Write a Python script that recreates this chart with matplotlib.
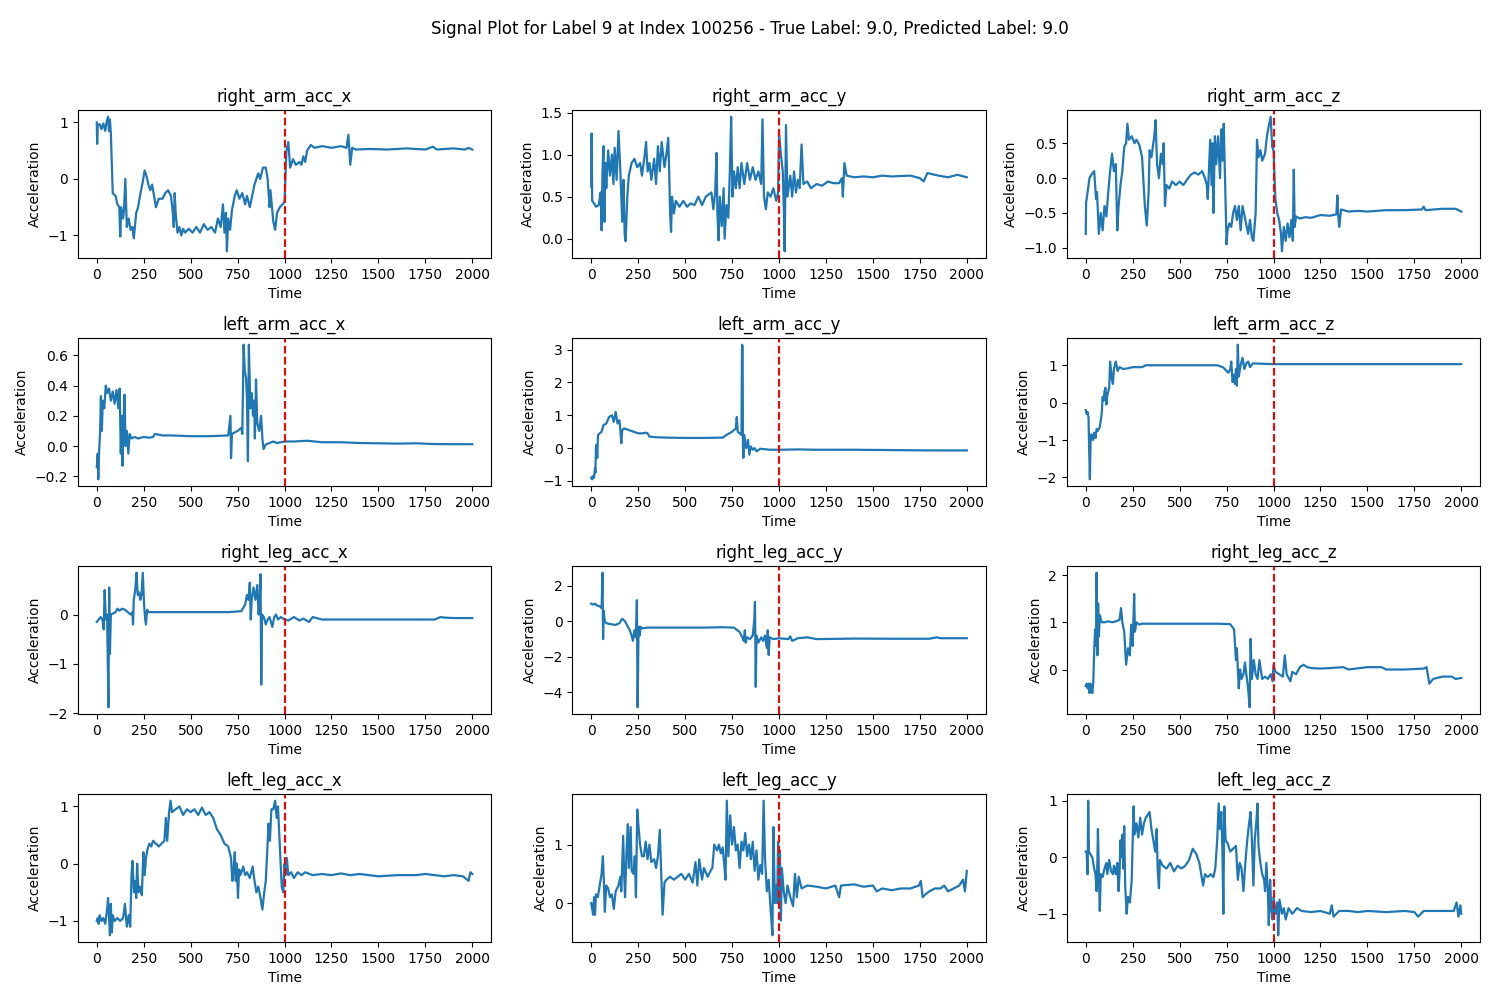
import numpy as np
import matplotlib
matplotlib.use("Agg")
import matplotlib.pyplot as plt

# Werte: (Zeit, Beschleunigung)
SIGNAL_NAMES = [
    "right_arm_acc_x", "right_arm_acc_y", "right_arm_acc_z",
    "left_arm_acc_x", "left_arm_acc_y", "left_arm_acc_z",
    "right_leg_acc_x", "right_leg_acc_y", "right_leg_acc_z",
    "left_leg_acc_x", "left_leg_acc_y", "left_leg_acc_z",
]
SPLIT_INDEX = 1000
XTICKS = [0, 250, 500, 750, 1000, 1250, 1500, 1750, 2000]

right_arm_acc_x = [
    (0, 1.0), (2, 0.62), (5, 0.95), (15, 0.97), (25, 0.88), (35, 0.98), (45, 0.85), (52, 1.0),
    (60, 1.1), (65, 0.85), (70, 1.05), (75, 0.8), (85, -0.25), (100, -0.3), (110, -0.45),
    (120, -0.5), (125, -1.02), (130, -0.5), (140, -0.7), (145, -0.55), (152, 0.0), (160, -0.85),
    (170, -0.7), (180, -0.9), (190, -0.85), (197, -1.05), (210, -0.6), (220, -0.5), (230, -0.3),
    (245, -0.05), (255, 0.15), (265, 0.05), (275, -0.1), (285, -0.2), (295, -0.1), (305, -0.3),
    (315, -0.5), (330, -0.35), (350, -0.35), (365, -0.25), (380, -0.2), (395, -0.3), (405, -0.6),
    (410, -0.85), (415, -0.25), (420, -0.6), (430, -0.95), (440, -0.85), (450, -1.0), (460, -0.88),
    (470, -0.95), (490, -0.88), (510, -0.95), (530, -0.85), (550, -0.95), (570, -0.8), (590, -0.9),
    (610, -0.85), (630, -0.95), (645, -0.7), (660, -0.85), (672, -0.45), (680, -0.95), (688, -0.6),
    (693, -1.28), (700, -0.7), (710, -0.9), (720, -0.55), (735, -0.3), (745, -0.2), (760, -0.35),
    (775, -0.25), (790, -0.45), (800, -0.3), (815, -0.5), (840, -0.1), (860, 0.1), (870, 0.0),
    (885, 0.2), (900, 0.2), (910, 0.0), (920, -0.5), (925, -0.2), (940, -0.75), (950, -0.9),
    (960, -0.6), (975, -0.5), (990, -0.45), (1000, -0.4), (1010, 0.5), (1020, 0.65), (1030, 0.2),
    (1045, 0.35), (1060, 0.25), (1080, 0.3), (1090, 0.25), (1100, 0.4), (1110, 0.3), (1120, 0.5),
    (1140, 0.6), (1160, 0.55), (1200, 0.58), (1250, 0.55), (1300, 0.58), (1330, 0.55), (1340, 0.78),
    (1350, 0.25), (1360, 0.55), (1380, 0.52), (1450, 0.53), (1550, 0.52), (1650, 0.54), (1750, 0.52),
    (1790, 0.57), (1810, 0.52), (1900, 0.54), (1960, 0.52), (1980, 0.55), (2000, 0.52),
]

right_arm_acc_y = [
    (0, 0.62), (2, 1.25), (5, 0.45), (15, 0.42), (25, 0.38), (40, 0.4), (50, 0.55), (55, 0.1),
    (60, 0.8), (65, 1.1), (70, 0.2), (75, 0.9), (80, 0.6), (90, 1.05), (100, 0.75), (110, 1.0),
    (118, 0.65), (125, 1.08), (135, 0.7), (145, 1.28), (155, 0.8), (165, 0.2), (172, 0.7),
    (178, 0.05), (183, -0.03), (192, 0.5), (200, 0.75), (215, 0.9), (230, 0.95), (245, 0.85),
    (260, 0.9), (270, 0.75), (285, 1.0), (292, 1.15), (300, 0.8), (310, 0.9), (320, 0.7),
    (335, 0.95), (345, 0.65), (355, 1.1), (365, 0.8), (375, 1.15), (390, 0.85), (400, 1.0),
    (410, 1.2), (415, 0.8), (420, 0.3), (425, 0.08), (430, 0.5), (440, 0.3), (450, 0.45),
    (470, 0.38), (490, 0.45), (510, 0.38), (530, 0.42), (550, 0.4), (570, 0.5), (590, 0.4),
    (610, 0.5), (640, 0.55), (650, 0.35), (660, 0.55), (667, 1.02), (672, 0.3), (678, -0.02),
    (685, 0.5), (695, 0.15), (705, 0.6), (710, 0.0), (720, 0.4), (730, 0.25), (738, 0.8),
    (745, 1.45), (752, 0.5), (760, 0.8), (770, 0.6), (780, 0.85), (790, 0.6), (800, 0.9),
    (815, 0.65), (830, 0.9), (845, 0.7), (860, 0.85), (875, 0.7), (890, 0.8), (905, 0.65),
    (912, 1.42), (920, 0.5), (930, 0.35), (940, 0.55), (955, 0.5), (970, 0.6), (985, 0.45),
    (995, 0.55), (1000, 1.25), (1010, 1.0), (1020, 0.8), (1025, 0.4), (1030, -0.15), (1037, 1.35),
    (1045, 0.5), (1060, 0.75), (1070, 0.5), (1080, 0.8), (1090, 0.55), (1100, 0.7), (1110, 0.6),
    (1120, 1.12), (1130, 0.65), (1150, 0.68), (1170, 0.6), (1200, 0.65), (1230, 0.63), (1260, 0.68),
    (1290, 0.66), (1320, 0.66), (1335, 0.72), (1340, 0.5), (1348, 0.9), (1360, 0.75), (1400, 0.73),
    (1450, 0.74), (1500, 0.73), (1550, 0.75), (1600, 0.74), (1700, 0.75), (1750, 0.72), (1770, 0.68),
    (1790, 0.78), (1850, 0.75), (1900, 0.73), (1950, 0.76), (2000, 0.73),
]

right_arm_acc_z = [
    (0, -0.8), (2, -0.35), (10, -0.2), (20, 0.0), (30, 0.05), (45, 0.1), (55, -0.3), (60, -0.2),
    (70, -0.8), (80, -0.5), (90, -0.75), (100, -0.4), (110, -0.55), (120, -0.2), (130, 0.1),
    (140, 0.35), (150, 0.1), (160, 0.2), (168, -0.75), (175, -0.4), (185, -0.1), (195, 0.1),
    (205, 0.45), (215, 0.5), (222, 0.78), (230, 0.55), (245, 0.6), (260, 0.5), (270, 0.55),
    (285, 0.48), (300, 0.3), (315, -0.4), (325, -0.68), (335, -0.2), (340, 0.4), (350, 0.3),
    (365, 0.6), (372, 0.83), (380, 0.2), (390, 0.0), (400, 0.35), (410, 0.2), (415, 0.5),
    (422, -0.4), (430, -0.1), (445, -0.15), (460, -0.05), (480, -0.1), (500, -0.05), (520, -0.1),
    (540, -0.02), (560, 0.05), (580, 0.08), (600, 0.05), (620, 0.1), (635, 0.0), (645, -0.1),
    (650, -0.3), (655, 0.05), (663, 0.55), (670, -0.1), (676, 0.5), (680, -0.5), (688, 0.6),
    (695, 0.2), (705, 0.6), (715, 0.0), (722, 0.7), (728, 0.25), (735, 0.78), (742, 0.0),
    (750, -0.95), (755, -0.75), (765, -0.65), (775, -0.7), (785, -0.5), (795, -0.4), (805, -0.6),
    (815, -0.4), (825, -0.75), (835, -0.4), (850, -0.6), (865, -0.8), (875, -0.6), (885, -0.85),
    (893, -0.9), (905, -0.5), (912, 0.55), (920, 0.3), (930, 0.4), (940, 0.25), (955, 0.35),
    (965, 0.6), (975, 0.75), (985, 0.88), (993, 0.45), (1000, 0.4), (1010, -0.3), (1020, -0.5),
    (1030, -0.6), (1040, -0.8), (1045, -1.05), (1055, -0.7), (1065, -0.9), (1075, -0.65),
    (1085, -0.85), (1095, -0.6), (1103, -0.9), (1108, 0.12), (1113, -0.7), (1120, -0.55),
    (1140, -0.58), (1170, -0.56), (1200, -0.57), (1250, -0.53), (1300, -0.54), (1335, -0.52),
    (1340, -0.25), (1345, -0.55), (1350, -0.7), (1360, -0.45), (1400, -0.48), (1450, -0.47),
    (1500, -0.48), (1600, -0.46), (1700, -0.46), (1790, -0.45), (1800, -0.41), (1810, -0.46),
    (1900, -0.44), (1970, -0.44), (2000, -0.48),
]

left_arm_acc_x = [
    (0, -0.14), (5, -0.05), (8, -0.22), (12, -0.05), (18, 0.1), (22, 0.33), (27, 0.1), (32, 0.3),
    (40, 0.25), (48, 0.4), (55, 0.35), (65, 0.38), (75, 0.3), (85, 0.36), (95, 0.28), (105, 0.37),
    (115, 0.25), (122, 0.38), (128, -0.05), (132, 0.2), (137, -0.13), (142, 0.15), (148, 0.34),
    (153, 0.0), (160, 0.1), (168, -0.05), (175, 0.08), (185, 0.05), (200, 0.06), (220, 0.05),
    (250, 0.06), (280, 0.055), (300, 0.06), (310, 0.08), (350, 0.07), (400, 0.07), (500, 0.065),
    (600, 0.065), (700, 0.07), (712, 0.2), (715, -0.08), (720, 0.08), (750, 0.1), (770, 0.12),
    (775, 0.08), (782, 0.67), (788, 0.5), (795, 0.45), (800, 0.3), (805, -0.1), (810, 0.67),
    (818, 0.25), (825, 0.35), (832, 0.2), (838, 0.3), (842, 0.05), (848, 0.44), (855, 0.15),
    (865, 0.1), (875, 0.2), (882, 0.05), (888, -0.02), (900, 0.01), (920, 0.02), (940, 0.03),
    (960, 0.02), (1000, 0.03), (1050, 0.03), (1120, 0.035), (1200, 0.025), (1300, 0.025),
    (1400, 0.02), (1500, 0.018), (1600, 0.016), (1700, 0.018), (1800, 0.013), (1900, 0.012),
    (2000, 0.012),
]

left_arm_acc_y = [
    (0, -0.9), (5, -0.95), (10, -0.85), (15, -0.9), (20, -0.6), (22, -0.75), (25, 0.0), (28, 0.1),
    (32, -0.3), (36, 0.4), (45, 0.45), (55, 0.5), (65, 0.7), (80, 0.75), (95, 0.95), (110, 1.0),
    (120, 0.8), (130, 1.1), (140, 0.75), (150, 0.85), (155, 0.55), (160, 0.15), (165, 0.55),
    (175, 0.6), (200, 0.55), (225, 0.5), (250, 0.45), (275, 0.45), (290, 0.47), (300, 0.45),
    (310, 0.35), (350, 0.33), (400, 0.32), (500, 0.31), (600, 0.31), (700, 0.32), (720, 0.4),
    (750, 0.5), (770, 0.6), (775, 0.95), (780, 0.5), (790, 0.45), (800, 0.4), (803, 3.15),
    (806, 3.1), (808, 0.0), (810, -0.3), (815, 0.4), (825, 0.0), (835, 0.25), (842, -0.2),
    (850, 0.05), (860, -0.05), (870, 0.0), (880, -0.1), (900, -0.02), (920, -0.03), (950, -0.05),
    (1000, -0.05), (1100, -0.04), (1200, -0.05), (1400, -0.05), (1600, -0.06), (1800, -0.07),
    (2000, -0.07),
]

left_arm_acc_z = [
    (0, -0.2), (5, -0.3), (10, -0.25), (15, -0.4), (18, -1.2), (22, -2.05), (26, -1.0), (30, -0.85),
    (38, -1.0), (45, -0.8), (52, -0.95), (58, -0.7), (65, -0.75), (75, -0.65), (85, -0.3),
    (90, 0.15), (95, 0.05), (100, 0.3), (105, 0.4), (110, -0.05), (115, 0.2), (125, 0.4),
    (130, 1.1), (140, 0.6), (145, 0.5), (150, 0.9), (160, 1.1), (170, 0.85), (180, 0.95),
    (200, 0.9), (225, 0.92), (250, 0.95), (300, 0.95), (320, 1.0), (400, 1.0), (500, 1.0),
    (600, 1.0), (700, 1.0), (730, 0.95), (760, 0.8), (770, 0.9), (775, 1.1), (782, 0.55),
    (790, 0.75), (795, 0.5), (800, 0.9), (805, 0.45), (810, 1.55), (815, 0.7), (825, 1.0),
    (835, 1.2), (845, 0.9), (855, 1.05), (865, 1.1), (875, 0.95), (890, 1.05), (1000, 1.03),
    (1500, 1.03), (2000, 1.03),
]

right_leg_acc_x = [
    (0, -0.15), (10, -0.1), (20, -0.05), (30, -0.1), (37, -0.3), (42, 0.5), (48, -0.1), (55, 0.0),
    (62, -1.88), (66, 0.55), (70, -0.8), (75, 0.0), (85, 0.02), (100, 0.05), (110, 0.12),
    (120, 0.08), (135, 0.12), (150, 0.1), (165, 0.05), (180, 0.0), (190, 0.05), (193, -0.2),
    (197, 0.3), (205, 0.5), (212, 0.85), (218, 0.4), (225, 0.45), (232, 0.3), (238, 0.4),
    (245, 0.85), (252, 0.2), (258, -0.1), (262, -0.2), (268, 0.1), (275, 0.05), (300, 0.05),
    (400, 0.05), (500, 0.05), (600, 0.05), (700, 0.05), (770, 0.07), (790, 0.2), (800, 0.4),
    (808, 0.3), (815, 0.65), (820, -0.1), (825, 0.3), (835, 0.55), (845, 0.3), (855, 0.6),
    (862, 0.0), (868, 0.3), (872, 0.82), (876, -1.42), (880, 0.0), (890, -0.05), (900, -0.2),
    (910, -0.1), (920, -0.05), (935, -0.25), (945, -0.05), (955, 0.0), (965, -0.1), (980, -0.05),
    (1000, -0.1), (1020, -0.12), (1050, -0.05), (1080, -0.12), (1100, -0.08), (1130, -0.15),
    (1150, -0.05), (1200, -0.1), (1300, -0.1), (1400, -0.1), (1500, -0.1), (1600, -0.1),
    (1700, -0.1), (1800, -0.1), (1830, -0.05), (1850, -0.06), (1900, -0.07), (2000, -0.07),
]

right_leg_acc_y = [
    (0, 1.0), (10, 0.95), (20, 1.0), (30, 0.9), (45, 0.85), (55, 0.75), (60, 2.75), (63, -1.0),
    (66, 0.6), (72, 0.0), (80, -0.1), (100, -0.15), (130, -0.2), (150, -0.1), (165, 0.15),
    (180, 0.0), (195, -0.3), (205, -0.5), (215, -0.8), (222, -1.1), (230, -0.5), (238, -0.9),
    (243, 1.2), (247, -4.85), (252, -0.3), (258, -0.8), (262, -0.3), (270, -0.4), (300, -0.35),
    (400, -0.35), (500, -0.35), (600, -0.35), (700, -0.33), (760, -0.35), (790, -0.6),
    (805, -0.9), (812, -1.1), (818, -0.5), (822, -1.2), (830, -0.9), (845, -1.0), (860, -0.8),
    (868, 0.05), (872, 1.1), (876, -3.7), (880, -0.8), (890, -1.2), (905, -0.9), (915, -1.1),
    (925, -0.8), (935, -1.5), (940, -0.5), (945, -1.9), (950, -0.9), (970, -1.0), (1000, -0.95),
    (1050, -1.0), (1060, -0.85), (1070, -1.1), (1100, -0.95), (1150, -0.9), (1200, -1.0),
    (1400, -0.97), (1600, -0.98), (1800, -0.98), (1840, -0.9), (1860, -0.95), (2000, -0.95),
]

right_leg_acc_z = [
    (0, -0.35), (5, -0.3), (10, -0.4), (15, -0.3), (20, -0.5), (25, -0.3), (30, -0.4), (35, -0.5),
    (40, -0.3), (45, 0.4), (50, 0.85), (55, 0.5), (58, 2.05), (62, 0.3), (66, 1.4), (70, 0.7),
    (75, 1.15), (85, 1.0), (100, 1.0), (120, 1.02), (140, 1.0), (160, 1.02), (180, 1.05),
    (188, 1.3), (195, 1.0), (205, 0.8), (215, 0.1), (225, 0.45), (235, 0.3), (242, 0.95),
    (250, 0.5), (258, 1.6), (262, 0.8), (270, 1.0), (285, 0.95), (300, 0.97), (400, 0.97),
    (500, 0.97), (600, 0.97), (700, 0.97), (770, 0.96), (790, 0.85), (800, 0.2), (805, 0.45),
    (815, -0.4), (822, 0.0), (830, -0.2), (840, -0.1), (848, 0.15), (855, -0.1), (862, -0.3),
    (868, -0.55), (873, -0.8), (878, 0.65), (885, -0.2), (895, 0.2), (905, -0.1), (915, -0.2),
    (925, 0.2), (932, 0.0), (940, -0.2), (955, -0.15), (970, -0.2), (985, -0.1), (995, -0.25),
    (1000, 0.1), (1010, -0.05), (1030, -0.1), (1050, -0.15), (1060, 0.3), (1070, -0.1),
    (1090, -0.25), (1100, -0.05), (1120, -0.1), (1140, 0.05), (1160, 0.1), (1180, 0.05),
    (1200, 0.03), (1250, 0.02), (1300, 0.03), (1370, 0.05), (1400, 0.0), (1500, 0.05),
    (1575, 0.05), (1600, 0.0), (1700, 0.0), (1800, 0.02), (1815, 0.05), (1830, -0.3),
    (1850, -0.2), (1900, -0.15), (1950, -0.15), (1970, -0.2), (2000, -0.18),
]

left_leg_acc_x = [
    (0, -1.0), (5, -0.95), (10, -1.05), (15, -0.9), (25, -1.0), (35, -0.95), (45, -1.05),
    (55, -0.8), (60, -0.6), (65, -0.9), (70, -1.25), (75, -0.7), (80, -1.2), (85, -0.9),
    (95, -1.0), (110, -0.95), (125, -1.0), (140, -0.95), (150, -0.7), (160, -1.1), (170, -0.9),
    (178, -1.1), (185, -0.2), (190, 0.05), (198, -0.5), (205, -0.3), (210, -0.6), (215, 0.0),
    (222, -0.5), (230, -0.4), (240, -0.55), (248, 0.2), (255, -0.2), (262, 0.1), (270, 0.25),
    (280, 0.35), (290, 0.3), (300, 0.4), (315, 0.35), (330, 0.3), (345, 0.35), (360, 0.4),
    (368, 0.8), (375, 0.4), (385, 0.9), (393, 1.1), (400, 0.9), (420, 0.95), (440, 1.0),
    (460, 0.85), (480, 0.95), (500, 0.9), (520, 0.95), (540, 0.85), (560, 0.98), (580, 0.85),
    (600, 0.9), (620, 0.8), (640, 0.6), (660, 0.5), (680, 0.35), (700, 0.3), (715, 0.1),
    (722, -0.3), (728, -0.15), (735, 0.2), (740, -0.3), (745, 0.0), (752, -0.6), (758, -0.1),
    (765, -0.2), (780, -0.05), (790, -0.2), (800, -0.15), (815, -0.25), (830, -0.05), (840, -0.3),
    (850, -0.5), (860, -0.4), (872, -0.6), (882, -0.8), (890, -0.55), (900, -0.3), (915, 0.7),
    (922, 0.4), (930, 0.95), (940, 0.95), (950, 1.1), (958, 0.8), (965, 1.0), (975, 0.3),
    (985, -0.4), (993, -0.5), (1000, 0.0), (1005, -0.2), (1012, 0.1), (1020, -0.2), (1035, -0.15),
    (1050, -0.25), (1070, -0.15), (1090, -0.2), (1110, -0.15), (1150, -0.2), (1200, -0.18),
    (1250, -0.2), (1300, -0.17), (1350, -0.2), (1400, -0.18), (1450, -0.2), (1500, -0.22),
    (1600, -0.2), (1700, -0.2), (1750, -0.18), (1800, -0.2), (1850, -0.22), (1900, -0.2),
    (1950, -0.22), (1980, -0.3), (1990, -0.15), (2000, -0.18),
]

left_leg_acc_y = [
    (0, 0.0), (5, -0.1), (10, -0.2), (15, 0.1), (20, -0.2), (25, 0.15), (35, 0.1), (45, 0.3),
    (55, 0.5), (62, 0.8), (68, 0.3), (72, -0.15), (80, 0.3), (90, 0.25), (100, 0.1), (110, 0.15),
    (120, -0.1), (130, 0.2), (145, 0.3), (155, 0.45), (160, 0.2), (170, 1.15), (175, 0.5),
    (180, 0.1), (188, 0.9), (195, 1.35), (200, 0.6), (210, 1.3), (215, 0.55), (225, 0.5),
    (232, 0.8), (238, 0.1), (245, 1.6), (252, 1.3), (260, 1.0), (270, 0.8), (280, 0.8),
    (290, 1.05), (300, 0.75), (310, 1.0), (320, 0.7), (335, 0.75), (345, 0.6), (355, 0.8),
    (365, 1.25), (375, 0.3), (380, -0.2), (390, 0.35), (400, 0.4), (420, 0.45), (440, 0.4),
    (460, 0.45), (480, 0.5), (500, 0.4), (520, 0.5), (540, 0.35), (555, 0.7), (565, 0.3),
    (575, 0.75), (590, 0.4), (600, 0.6), (620, 0.45), (635, 0.55), (645, 0.6), (655, 1.0),
    (670, 0.9), (680, 1.0), (690, 0.85), (700, 0.95), (710, 0.6), (715, 0.4), (722, 1.75),
    (730, 0.8), (740, 1.5), (750, 1.0), (760, 1.3), (770, 0.9), (780, 1.0), (790, 0.6),
    (800, 1.05), (810, 0.9), (820, 1.2), (830, 0.8), (840, 1.0), (850, 0.75), (860, 1.05),
    (870, 0.55), (880, 0.9), (890, 0.4), (900, 0.65), (910, 0.5), (918, 1.75), (925, 0.8),
    (935, 0.2), (945, 0.4), (955, -0.1), (965, -0.55), (970, 1.3), (978, 0.0), (985, 0.3),
    (990, 0.0), (995, 1.05), (1000, 0.0), (1005, 0.9), (1010, -0.3), (1015, 0.6), (1025, 0.2),
    (1035, 0.0), (1045, 0.3), (1060, 0.1), (1075, -0.05), (1085, 0.5), (1095, 0.1), (1105, 0.45),
    (1120, 0.25), (1150, 0.3), (1200, 0.28), (1250, 0.25), (1300, 0.3), (1320, 0.1), (1330, 0.3),
    (1400, 0.32), (1450, 0.28), (1500, 0.3), (1520, 0.2), (1550, 0.25), (1600, 0.22), (1650, 0.25),
    (1700, 0.25), (1745, 0.3), (1755, 0.38), (1765, 0.1), (1780, 0.15), (1800, 0.2), (1830, 0.25),
    (1860, 0.25), (1880, 0.3), (1900, 0.2), (1930, 0.25), (1960, 0.3), (1980, 0.4), (1990, 0.2),
    (2000, 0.55),
]

left_leg_acc_z = [
    (0, 0.1), (5, 0.08), (10, -0.3), (13, 1.0), (17, 0.1), (25, 0.05), (35, 0.0), (45, -0.2),
    (52, -0.3), (58, -0.6), (62, -0.1), (65, 0.5), (70, -0.3), (75, -0.95), (80, -0.3),
    (90, -0.35), (100, -0.2), (110, -0.1), (115, -0.3), (125, -0.05), (135, -0.25), (145, -0.3),
    (150, -0.15), (160, -0.3), (168, -0.1), (175, -0.6), (180, -0.3), (185, 0.3), (190, 0.0),
    (195, 0.4), (200, -0.2), (205, 0.55), (210, -0.5), (218, -1.0), (225, -0.7), (235, -0.8),
    (245, -0.4), (250, 0.3), (255, 0.9), (260, 0.4), (270, 0.6), (280, 0.35), (290, 0.7),
    (300, 0.4), (310, 0.6), (320, 0.7), (330, 0.75), (340, 0.8), (350, 0.5), (360, 0.3),
    (370, 0.1), (378, 0.5), (383, -0.2), (390, -0.55), (395, -0.05), (410, -0.15), (430, -0.2),
    (450, -0.1), (470, -0.25), (490, -0.15), (510, -0.2), (530, -0.15), (550, -0.05), (570, 0.15),
    (590, 0.05), (605, -0.1), (615, -0.3), (625, -0.5), (635, -0.3), (650, -0.35), (665, -0.3),
    (680, -0.35), (690, -0.2), (700, 0.3), (708, 0.95), (715, 0.5), (722, 0.8), (728, 0.1),
    (733, -1.0), (738, 0.9), (745, 0.3), (755, 0.25), (770, 0.1), (785, 0.15), (800, 0.2),
    (810, -0.4), (820, -0.1), (830, -0.2), (840, -0.6), (850, -0.1), (860, 0.3), (870, 0.6),
    (878, 0.8), (885, 0.3), (893, -0.5), (900, 0.3), (908, 0.6), (915, 0.95), (920, 0.2),
    (930, -0.1), (940, -0.3), (950, -0.4), (955, -0.6), (962, -0.1), (970, -0.6), (975, -1.2),
    (982, -0.4), (988, -0.9), (995, -1.1), (1000, -0.7), (1010, -1.0), (1020, -0.8), (1025, -1.38),
    (1032, -0.75), (1045, -1.0), (1055, -0.9), (1065, -1.1), (1080, -0.9), (1100, -1.0),
    (1125, -0.9), (1150, -0.95), (1200, -0.97), (1250, -0.95), (1300, -1.0), (1310, -0.85),
    (1320, -1.05), (1350, -0.95), (1400, -0.95), (1450, -0.97), (1500, -0.95), (1600, -0.97),
    (1700, -0.95), (1750, -0.97), (1770, -1.05), (1800, -0.95), (1900, -0.95), (1960, -0.95),
    (1975, -0.8), (1985, -1.05), (1995, -0.85), (2000, -1.0),
]

SIGNALS = [
    right_arm_acc_x, right_arm_acc_y, right_arm_acc_z,
    left_arm_acc_x, left_arm_acc_y, left_arm_acc_z,
    right_leg_acc_x, right_leg_acc_y, right_leg_acc_z,
    left_leg_acc_x, left_leg_acc_y, left_leg_acc_z,
]

fig, axes = plt.subplots(4, 3, figsize=(15, 10))
fig.suptitle("Signal Plot for Label 9 at Index 100256 - True Label: 9.0, Predicted Label: 9.0")

for ax, name, sig in zip(axes.flat, SIGNAL_NAMES, SIGNALS):
    arr = np.array(sig)
    ax.plot(arr[:, 0], arr[:, 1], color="#1f77b4", linewidth=1.6)
    ax.axvline(SPLIT_INDEX, color="red", linestyle="--", linewidth=1.5)
    ax.set_title(name)
    ax.set_xlabel("Time")
    ax.set_ylabel("Acceleration")
    ax.set_xticks(XTICKS)

fig.subplots_adjust(left=0.052, right=0.9867, top=0.89, bottom=0.058, wspace=0.197, hspace=0.54)
fig.savefig("out.png", dpi=100)
plt.close(fig)
